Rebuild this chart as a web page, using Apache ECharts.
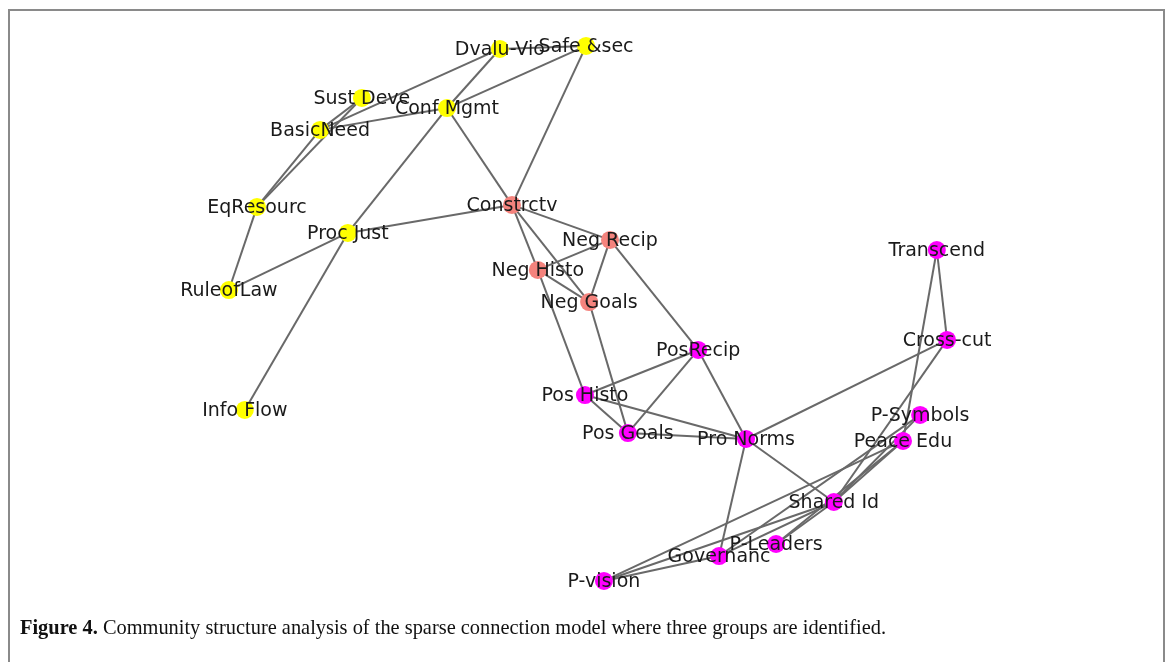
<!DOCTYPE html>
<html>
<head>
<meta charset="utf-8">
<style>
  html, body { margin: 0; padding: 0; background: #ffffff; }
  #chart { width: 1170px; height: 662px; }
</style>
<script src="https://cdn.jsdelivr.net/npm/echarts@6/dist/echarts.min.js"></script>
</head>
<body>
<div id="chart"></div>
<script>
// Node names, community membership and layout positions (layout units, y up)
const nodeNames = [
  'Dvalu-Vio', 'Safe &sec', 'Sust Deve', 'Conf Mgmt', 'BasicNeed', 'EqResourc',
  'Proc Just', 'RuleofLaw', 'Info Flow',
  'Constrctv', 'Neg Recip', 'Neg Histo', 'Neg Goals',
  'Transcend', 'Cross-cut', 'PosRecip', 'Pos Histo', 'P-Symbols', 'Pos Goals',
  'Pro Norms', 'Peace Edu', 'Shared Id', 'P-Leaders', 'Governanc', 'P-vision'
];
const nodeGroup = [
  0, 0, 0, 0, 0, 0, 0, 0, 0,
  1, 1, 1, 1,
  2, 2, 2, 2, 2, 2, 2, 2, 2, 2, 2, 2
];
const nodeX = [
  -0.211, 0.016, -0.574, -0.350, -0.684, -0.850, -0.611, -0.924, -0.882,
  -0.179, 0.079, -0.111, 0.024,
  0.939, 0.966, 0.311, 0.013, 0.895, 0.126, 0.437, 0.850, 0.668, 0.516, 0.366, 0.063
];
const nodeY = [
  0.968, 0.979, 0.793, 0.757, 0.679, 0.404, 0.311, 0.107, -0.321,
  0.411, 0.286, 0.179, 0.064,
  0.250, -0.071, -0.107, -0.268, -0.339, -0.404, -0.425, -0.432, -0.650, -0.800, -0.843, -0.932
];

// Connections of the sparse model
const edgeList = [
  ['Dvalu-Vio', 'Safe &sec'], ['Dvalu-Vio', 'BasicNeed'], ['Dvalu-Vio', 'Conf Mgmt'],
  ['Safe &sec', 'Conf Mgmt'], ['Safe &sec', 'Constrctv'],
  ['Sust Deve', 'BasicNeed'], ['Sust Deve', 'EqResourc'],
  ['BasicNeed', 'Conf Mgmt'], ['BasicNeed', 'EqResourc'],
  ['Conf Mgmt', 'Proc Just'], ['Conf Mgmt', 'Constrctv'],
  ['EqResourc', 'RuleofLaw'], ['RuleofLaw', 'Proc Just'],
  ['Proc Just', 'Info Flow'], ['Proc Just', 'Constrctv'],
  ['Constrctv', 'Neg Recip'], ['Constrctv', 'Neg Histo'], ['Constrctv', 'Neg Goals'],
  ['Neg Recip', 'Neg Histo'], ['Neg Recip', 'Neg Goals'], ['Neg Histo', 'Neg Goals'],
  ['Neg Recip', 'PosRecip'], ['Neg Histo', 'Pos Histo'], ['Neg Goals', 'Pos Goals'],
  ['PosRecip', 'Pos Histo'], ['PosRecip', 'Pos Goals'], ['PosRecip', 'Pro Norms'],
  ['Pos Histo', 'Pos Goals'], ['Pos Histo', 'Pro Norms'], ['Pos Goals', 'Pro Norms'],
  ['Pro Norms', 'Cross-cut'], ['Pro Norms', 'Shared Id'], ['Pro Norms', 'Governanc'],
  ['Transcend', 'Cross-cut'], ['Transcend', 'Peace Edu'],
  ['Cross-cut', 'Shared Id'],
  ['Shared Id', 'Peace Edu'], ['Shared Id', 'P-Symbols'],
  ['P-Leaders', 'Shared Id'], ['P-Leaders', 'Peace Edu'],
  ['Governanc', 'Shared Id'], ['Governanc', 'P-Symbols'],
  ['P-vision', 'Governanc'], ['P-vision', 'Shared Id'], ['P-vision', 'Peace Edu']
];

const groupColors = ['#ffff00', '#f4837d', '#ff00ff'];

const chart = echarts.init(document.getElementById('chart'), null, { renderer: 'canvas' });

const nodes = nodeNames.map((name, i) => ({
  name: name,
  value: [nodeX[i], nodeY[i]],
  itemStyle: { color: groupColors[nodeGroup[i]] }
}));
const links = edgeList.map(e => ({ source: e[0], target: e[1] }));

chart.setOption({
  animation: false,
  backgroundColor: '#ffffff',
  grid: { left: 200, top: 40, width: 760, height: 560 },
  xAxis: { type: 'value', min: -1, max: 1, show: false },
  yAxis: { type: 'value', min: -1, max: 1, show: false },
  graphic: [
    {
      type: 'rect',
      shape: { x: 9, y: 10, width: 1155, height: 700 },
      style: { fill: 'none', stroke: '#8a8a8a', lineWidth: 2 },
      silent: true
    },
    {
      type: 'text',
      left: 20,
      top: 619,
      style: {
        text: '{b|Figure 4.} Community structure analysis of the sparse connection model where three groups are identified.',
        rich: {
          b: { fontFamily: 'Liberation Serif', fontWeight: 'bold', fontSize: 20.4, fill: '#111' }
        },
        fontFamily: 'Liberation Serif',
        fontSize: 20.4,
        fill: '#111'
      }
    }
  ],
  series: [{
    type: 'graph',
    coordinateSystem: 'cartesian2d',
    layout: 'none',
    symbol: 'circle',
    symbolSize: 18,
    data: nodes,
    links: links,
    lineStyle: { color: '#696969', width: 2, opacity: 1, curveness: 0 },
    label: {
      show: true,
      position: 'inside',
      offset: [0, 1],
      color: '#1a1a1a',
      fontFamily: 'DejaVu Sans',
      fontSize: 19
    },
    emphasis: { disabled: true }
  }]
});
</script>
</body>
</html>
